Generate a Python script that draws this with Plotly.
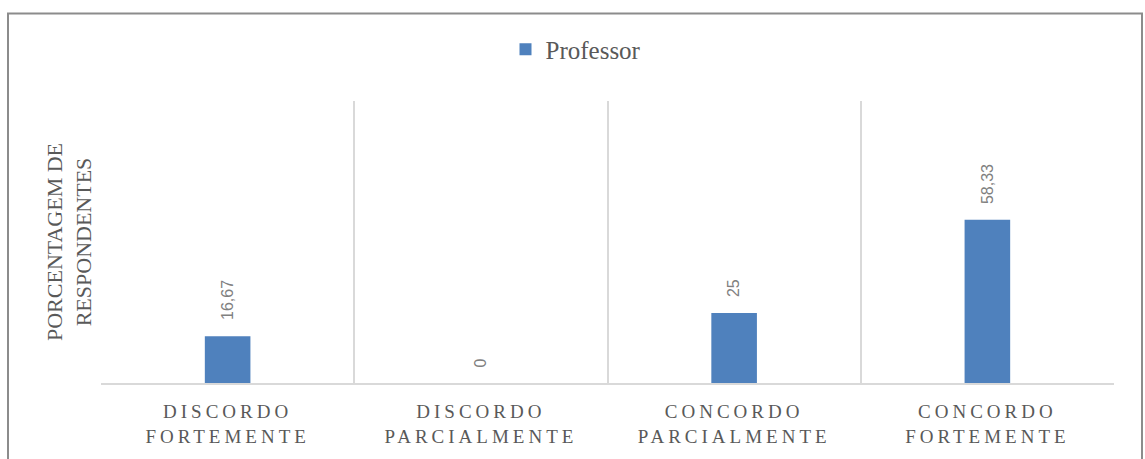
import plotly.graph_objects as go

categories = ["DISCORDO<br>FORTEMENTE", "DISCORDO<br>PARCIALMENTE", "CONCORDO<br>PARCIALMENTE", "CONCORDO<br>FORTEMENTE"]
values = [16.67, 0, 25, 58.33]
value_labels = ["16,67", "0", "25", "58,33"]
series_name = "Professor"
y_title = "PORCENTAGEM DE<br>RESPONDENTES"

W, H = 1145, 459
L, T = 101, 101
R = W - 1114
B = H - 386
pw, ph = W - L - R, H - T - B

def px_x(p):
    return (p - L) / pw

def px_y(p):
    return (H - B - p) / ph

sp = '<span style="letter-spacing:4px">'
spaced = [sp + c.replace("<br>", '</span><br>' + sp) + '</span>' for c in categories]

fig = go.Figure()
fig.add_trace(go.Bar(
    x=spaced, y=values, name=series_name,
    marker=dict(color="#4f81bd", line=dict(width=0)),
    width=0.18, showlegend=True,
))

for c, v, t in zip(spaced, values, value_labels):
    fig.add_annotation(x=c, y=v, text=t, textangle=-90, showarrow=False,
                       yanchor="bottom", xanchor="center", yshift=14,
                       font=dict(family="Liberation Sans, Arial", size=16, color="#808080"))

fig.add_shape(type="rect", xref="paper", yref="paper",
              x0=px_x(8), x1=px_x(1142), y0=px_y(480), y1=px_y(12.5),
              line=dict(color="#8c8c8c", width=2), layer="above")

fig.update_layout(
    width=W, height=H,
    margin=dict(l=L, r=R, t=T, b=B),
    paper_bgcolor="white", plot_bgcolor="white",
    bargap=0.82,
    showlegend=True,
    legend=dict(orientation="h", x=px_x(576), xanchor="center", y=px_y(49), yanchor="middle",
                font=dict(family="Liberation Serif, DejaVu Serif, serif", size=25, color="#595959"),
                itemwidth=30, bgcolor="rgba(0,0,0,0)"),
    xaxis=dict(type="category", tickson="boundaries", showgrid=True, gridcolor="#d9d9d9", gridwidth=1.5,
               ticks="", showline=True, linecolor="#d9d9d9", linewidth=2, ticklabelstandoff=10,
               tickfont=dict(family="Liberation Serif, DejaVu Serif, serif", size=19, color="#595959"),
               fixedrange=True),
    yaxis=dict(range=[0, 100.7], showgrid=False, zeroline=False, showticklabels=False, ticks="",
               showline=False, fixedrange=True,
               title=dict(text=y_title, standoff=2,
                          font=dict(family="Liberation Serif, DejaVu Serif, serif", size=22, color="#595959"))),
)

fig.write_html("out.html", config={"displayModeBar": False},
               post_script="document.body.style.margin='0';document.body.style.overflow='hidden';")
